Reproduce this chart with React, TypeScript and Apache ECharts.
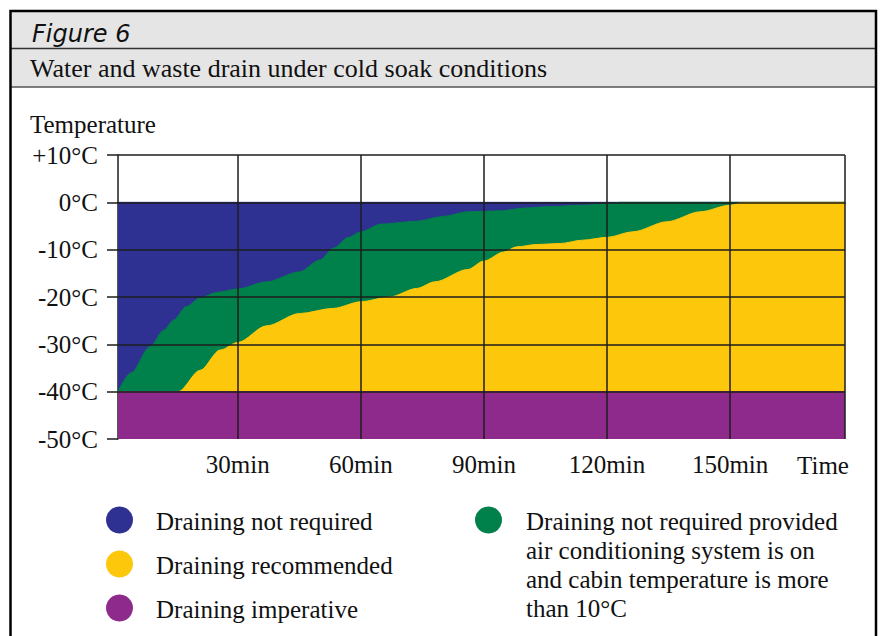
import React, { useEffect, useRef } from "react";
import * as echarts from "echarts";

// Time (min) and temperature (°C) of the boundary between "not required" (blue) and "provided AC on" (green)
const greenTimes = [0.8, 4, 8.6, 12, 14.3, 17.5, 20.8, 25, 30, 37, 45, 50, 53.3, 57, 60, 65, 73.6, 80, 86, 94, 100, 106, 114, 120, 123, 178];
const greenTemps = [-40, -36, -30.5, -27, -24.9, -22, -20.2, -19, -18.3, -16.8, -14.7, -12.2, -9.7, -7.4, -6.2, -4.6, -4.0, -3.0, -2.0, -1.8, -1.2, -0.9, -0.6, -0.3, 0, 0];
// Boundary between green and "recommended" (yellow)
const yellowTimes = [0.8, 15.5, 20.8, 25.7, 30, 37, 45, 53.3, 60, 67, 73.6, 78, 86, 90, 94.8, 98, 103, 108.6, 114, 120, 126.4, 134.6, 142.7, 150, 153.2, 178];
const yellowTemps = [-40, -40, -35.5, -31.2, -29.6, -26.1, -23.5, -22.4, -21, -20, -18.2, -16.8, -14.2, -12.4, -10.5, -9.4, -8.9, -8.7, -8.0, -7.4, -6.2, -4.1, -2.0, -0.6, 0, 0];
// Fixed zone limits
const timeRange = [0.8, 178];
const notRequiredTop = 0;
const imperativeTop = -40;
const axisMin = -50;
const axisMax = 10;
const timeTicks = [30, 60, 90, 120, 150];
const tempGrid = [10, 0, -10, -20, -30, -40];

const legendLeft = ["Draining not required", "Draining recommended", "Draining imperative"];
const legendRight = "Draining not required provided\nair conditioning system is on\nand cabin temperature is more\nthan 10°C";

const BLUE = "#2e3192";
const GREEN = "#00804a";
const YELLOW = "#fdc70c";
const PURPLE = "#8f2a8d";
const SERIF = "'Liberation Serif', 'Times New Roman', serif";

export default function App() {
  const ref = useRef<HTMLDivElement>(null);
  useEffect(() => {
    if (!ref.current) return;
    const chart = echarts.init(ref.current, undefined, { renderer: "svg" });
    const pairs = (t: number[], v: number[]) => t.map((x, i) => [x, v[i]]);
    const areaSeries = (name: string, data: number[][], color: string, origin: any, smooth: number, z: number) => ({
      name,
      type: "line",
      data,
      smooth,
      smoothMonotone: "x",
      showSymbol: false,
      symbol: "none",
      silent: true,
      z,
      lineStyle: { width: 1, color },
      areaStyle: { color, opacity: 1, origin },
    });
    const gridLines = [
      ...tempGrid.map((v) => ({ yAxis: v })),
      ...timeTicks.map((v) => ({ xAxis: v })),
      { xAxis: timeRange[1] },
    ];
    const lineColor = "#1c1c1c";
    chart.setOption({
      animation: false,
      grid: { left: 118, top: 155, width: 727, height: 284, containLabel: false },
      xAxis: {
        type: "value",
        min: timeRange[0],
        max: timeRange[1],
        splitLine: { show: false },
        axisTick: { show: false },
        axisLine: { show: true, lineStyle: { color: lineColor, width: 1.5 } },
        axisLabel: {
          customValues: timeTicks,
          formatter: (v: number) => `${v}min`,
          color: "#111",
          fontFamily: SERIF,
          fontSize: 25,
          margin: 13,
        },
      },
      yAxis: {
        type: "value",
        min: axisMin,
        max: axisMax,
        interval: 10,
        splitLine: { show: false },
        axisLine: { show: true, onZero: false, lineStyle: { color: lineColor, width: 1.5 } },
        axisTick: { show: true, length: 11, lineStyle: { color: lineColor, width: 1.5 } },
        axisLabel: {
          formatter: (v: number) => (v > 0 ? `+${v}°C` : `${v}°C`),
          color: "#111",
          fontFamily: SERIF,
          fontSize: 25,
          margin: 20,
        },
      },
      series: [
        areaSeries("Draining not required", pairs(timeRange, [notRequiredTop, notRequiredTop]), BLUE, imperativeTop, 0, 1),
        areaSeries("Draining not required provided AC on", pairs(greenTimes, greenTemps), GREEN, imperativeTop, 0.3, 2),
        areaSeries("Draining recommended", pairs(yellowTimes, yellowTemps), YELLOW, imperativeTop, 0.3, 3),
        {
          ...areaSeries("Draining imperative", pairs(timeRange, [imperativeTop, imperativeTop]), PURPLE, "start", 0, 4),
          markLine: {
            silent: true,
            symbol: ["none", "none"],
            label: { show: false },
            lineStyle: { color: lineColor, width: 1.5, type: "solid" },
            data: gridLines,
            z: 10,
          },
        },
      ],
      graphic: [
        { type: "rect", shape: { x: 11, y: 11, width: 865, height: 37 }, style: { fill: "#e5e5e5" }, z: 0 },
        { type: "rect", shape: { x: 11, y: 49, width: 865, height: 38 }, style: { fill: "#e5e5e5" }, z: 0 },
        { type: "line", shape: { x1: 11, y1: 48.5, x2: 876, y2: 48.5 }, style: { stroke: "#333", lineWidth: 1.5 }, z: 1 },
        { type: "line", shape: { x1: 11, y1: 87, x2: 876, y2: 87 }, style: { stroke: "#555", lineWidth: 1.5 }, z: 1 },
        { type: "rect", shape: { x: 10.5, y: 11, width: 865.5, height: 700 }, style: { fill: "none", stroke: "#000", lineWidth: 2.5 }, z: 2 },
        {
          type: "text", x: 32, y: 34, z: 3,
          style: { text: "Figure 6", font: "italic 24px 'DejaVu Sans', sans-serif", fill: "#111", verticalAlign: "middle" },
        },
        {
          type: "text", x: 30, y: 68, z: 3,
          style: { text: "Water and waste drain under cold soak conditions", font: `26px ${SERIF}`, fill: "#111", verticalAlign: "middle" },
        },
        {
          type: "text", x: 30, y: 124, z: 3,
          style: { text: "Temperature", font: `25px ${SERIF}`, fill: "#111", verticalAlign: "middle" },
        },
        {
          type: "text", x: 823, y: 465, z: 3,
          style: { text: "Time", font: `25px ${SERIF}`, fill: "#111", align: "center", verticalAlign: "middle" },
        },
        ...[BLUE, YELLOW, PURPLE].map((c, i) => ({
          type: "circle", z: 3, shape: { cx: 119.5, cy: 520 + i * 44, r: 13.5 }, style: { fill: c },
        })),
        ...legendLeft.map((t, i) => ({
          type: "text", x: 156, y: 521 + i * 44, z: 3,
          style: { text: t, font: `25px ${SERIF}`, fill: "#111", verticalAlign: "middle" },
        })),
        { type: "circle", z: 3, shape: { cx: 488.5, cy: 520, r: 13.5 }, style: { fill: GREEN } },
        {
          type: "text", x: 526, y: 507, z: 3,
          style: { text: legendRight, font: `25px ${SERIF}`, fill: "#111", verticalAlign: "top", lineHeight: 29 },
        },
      ],
    });
    return () => chart.dispose();
  }, []);
  return (
    <>
      <style>{"svg path{shape-rendering:geometricPrecision}"}</style>
      <div ref={ref} style={{ position: "fixed", left: 0, top: 0, width: 880, height: 636, background: "#fff" }} />
    </>
  );
}
